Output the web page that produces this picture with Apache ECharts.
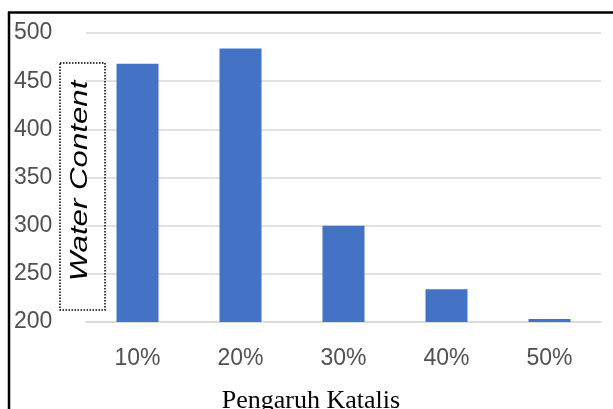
<!DOCTYPE html>
<html>
<head>
<meta charset="utf-8">
<script src="https://cdn.jsdelivr.net/npm/echarts@6/dist/echarts.min.js"></script>
<style>
  html, body { margin: 0; padding: 0; background: #fff; }
  #chart { width: 613px; height: 409px; }
</style>
</head>
<body>
<div id="chart"></div>
<script>
const categories = ['10%', '20%', '30%', '40%', '50%'];
const waterContent = [468, 484, 300, 234, 203];
const yTicks = { min: 200, max: 500, interval: 50 };

const chart = echarts.init(document.getElementById('chart'));
chart.setOption({
  animation: false,
  backgroundColor: '#ffffff',
  grid: { left: 86, right: 12, top: 33, bottom: 87, containLabel: false, outerBoundsMode: 'none' },
  xAxis: {
    type: 'category',
    data: categories,
    axisLine: { lineStyle: { color: '#d9d9d9', width: 1.5 } },
    axisTick: { show: false },
    axisLabel: {
      color: '#505050',
      fontFamily: 'Liberation Sans',
      fontSize: 23,
      margin: 25
    },
    name: 'Pengaruh Katalis',
    nameLocation: 'middle',
    nameGap: 66,
    nameTextStyle: {
      color: '#000',
      fontFamily: 'Liberation Serif',
      fontSize: 26,
      padding: [0, 65, 0, 0]
    }
  },
  yAxis: {
    type: 'value',
    min: yTicks.min,
    max: yTicks.max,
    interval: yTicks.interval,
    axisLine: { show: false },
    axisTick: { show: false },
    splitLine: { lineStyle: { color: '#d9d9d9', width: 1.5 } },
    axisLabel: {
      color: '#505050',
      fontFamily: 'Liberation Sans',
      fontSize: 23,
      align: 'left',
      margin: 72
    }
  },
  graphic: [{
    type: 'rect',
    shape: { x: 9, y: 12.5, width: 700, height: 500 },
    style: { fill: 'none', stroke: '#000', lineWidth: 2.5 },
    silent: true
  }, {
    // y axis title box
    type: 'rect',
    shape: { x: 60, y: 63, width: 45, height: 247 },
    style: { fill: 'none', stroke: '#000', lineWidth: 1.5, lineDash: [1.5, 1.5] },
    silent: true,
    z: 10
  }, {
    type: 'text',
    x: 80,
    y: 181,
    rotation: Math.PI / 2,
    scaleX: 1.3,
    style: {
      text: 'Water Content',
      fill: '#000',
      font: 'italic 24px "Liberation Sans"',
      align: 'center',
      verticalAlign: 'middle'
    },
    silent: true,
    z: 10
  }],
  series: [{
    type: 'bar',
    data: waterContent,
    barWidth: 42,
    itemStyle: { color: '#4472C4' }
  }]
});
</script>
</body>
</html>
